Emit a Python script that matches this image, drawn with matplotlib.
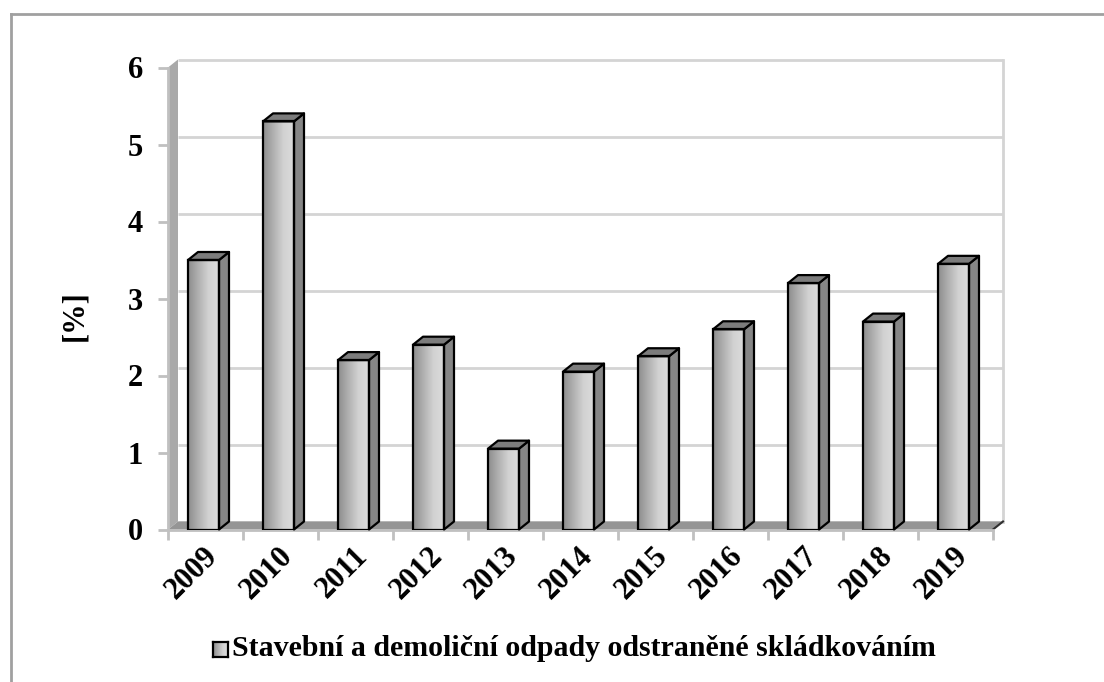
import numpy as np
import matplotlib
matplotlib.use("Agg")
import matplotlib.pyplot as plt
from matplotlib.patches import Polygon
from matplotlib.lines import Line2D
from matplotlib.colors import LinearSegmentedColormap
from matplotlib.transforms import ScaledTranslation

# --- data -------------------------------------------------------------
years = ["2009", "2010", "2011", "2012", "2013", "2014",
         "2015", "2016", "2017", "2018", "2019"]
values = [3.5, 5.3, 2.2, 2.4, 1.05, 2.05, 2.25, 2.6, 3.2, 2.7, 3.45]
y_ticks = [0, 1, 2, 3, 4, 5, 6]
series_name = "Stavební a demoliční odpady odstraněné skládkováním"
y_label = "[%]"

# --- style --------------------------------------------------------------
W, H, DPI = 1104, 682, 100
FONT = "Liberation Serif"
FS = 22
DX, DY = 10 / 75, 8 / 77          # depth offset of the pseudo-3D box (data units)
BAR_LEFT, BAR_W = -0.233, 0.413   # bar front face relative to category centre
GRID = "#d4d4d4"
AXIS = "#c0c0c0"
front_cmap = LinearSegmentedColormap.from_list(
    "front", ["#8c8c8c", "#b0b0b0", "#d2d2d2", "#dcdcdc"])
grad = np.linspace(0, 1, 256).reshape(1, -1)

fig = plt.figure(figsize=(W / DPI, H / DPI), dpi=DPI)
ax = fig.add_axes([168 / W, 1 - 529.5 / H, 825 / W, 462 / H])
ax.set_facecolor("none")
n = len(years)
x0, x1 = -0.5, n - 0.5
ytop = y_ticks[-1]

# back wall gridlines and right edge
for v in y_ticks:
    ax.plot([x0 + DX, x1 + DX], [v + DY, v + DY], color=GRID, lw=2,
            clip_on=False, zorder=1, solid_capstyle="butt")
ax.plot([x1 + DX, x1 + DX], [DY, ytop + DY], color=GRID, lw=2,
        clip_on=False, zorder=1)

# left side wall
ax.add_patch(Polygon([(x0, 0), (x0 + DX, DY), (x0 + DX, ytop + DY), (x0, ytop)],
                     closed=True, facecolor="#a9a9a9", edgecolor="none",
                     clip_on=False, zorder=1.5))
# floor
ax.add_patch(Polygon([(x0, 0), (x1, 0), (x1 + DX, DY), (x0 + DX, DY)],
                     closed=True, facecolor="#959595", edgecolor="none",
                     clip_on=False, zorder=1.5))
ax.plot([x1, x1 + DX], [0, DY], color="#303030", lw=1.5, clip_on=False, zorder=1.6)

# bars: front faces from ax.bar, side and top faces from the same values
lefts = [i + BAR_LEFT for i in range(n)]
bars = ax.bar(lefts, values, width=BAR_W, align="edge",
              facecolor="none", edgecolor="black", linewidth=1.6, zorder=4)
for rect, v in zip(bars, values):
    bx0 = rect.get_x()
    bx1 = bx0 + rect.get_width()
    im = ax.imshow(grad, cmap=front_cmap, aspect="auto",
                   extent=[bx0, bx1, 0, v], zorder=3, interpolation="bilinear")
    im.set_clip_path(rect)
    side = Polygon([(bx1, 0), (bx1 + DX, DY), (bx1 + DX, v + DY), (bx1, v)],
                   closed=True, facecolor="#868686", edgecolor="black",
                   linewidth=1.6, joinstyle="round", clip_on=False, zorder=3.5)
    top = Polygon([(bx0, v), (bx0 + DX, v + DY), (bx1 + DX, v + DY), (bx1, v)],
                  closed=True, facecolor="#7c7c7c", edgecolor="black",
                  linewidth=1.6, joinstyle="round", clip_on=False, zorder=3.5)
    ax.add_patch(side)
    ax.add_patch(top)

ax.set_xlim(x0, x1)
ax.set_ylim(0, ytop)

# axes, ticks and labels
for s in ["top", "right"]:
    ax.spines[s].set_visible(False)
for s in ["left", "bottom"]:
    ax.spines[s].set_color(AXIS)
    ax.spines[s].set_linewidth(2)
    ax.spines[s].set_zorder(2)

ax.set_yticks(y_ticks)
ax.set_yticklabels([str(t) for t in y_ticks], fontfamily=FONT,
                   fontweight="bold", fontsize=FS)
ax.tick_params(axis="y", length=7, width=2, color=AXIS, pad=11)

ax.set_xticks(np.arange(x0, x1 + 0.01, 1.0))
ax.set_xticklabels([])
ax.tick_params(axis="x", length=7, width=2, color=AXIS)
for i, lab in enumerate(years):
    off = ScaledTranslation(8 / DPI, -22 / DPI, fig.dpi_scale_trans)
    ax.text(i, 0, lab, transform=ax.transData + off, rotation=45,
            rotation_mode="anchor", ha="right", va="center",
            fontfamily=FONT, fontweight="bold", fontsize=FS)

fig.text(75 / W, 1 - 316 / H, y_label, rotation=90, ha="center", va="center",
         fontfamily=FONT, fontweight="bold", fontsize=FS)

# legend
kax = fig.add_axes([213 / W, 1 - 657 / H, 15 / W, 15 / H])
kax.imshow(grad, cmap=front_cmap, aspect="auto", interpolation="bilinear")
kax.set_xticks([])
kax.set_yticks([])
for s in kax.spines.values():
    s.set_linewidth(1.6)
    s.set_color("black")
fig.text(232 / W, 1 - 649 / H, series_name, ha="left", va="center",
         fontfamily=FONT, fontweight="bold", fontsize=21.5)

# chart area border
fig.add_artist(Line2D([10.5 / W, 1], [1 - 13.5 / H, 1 - 13.5 / H],
                      color="#a0a0a0", lw=2, transform=fig.transFigure))
fig.add_artist(Line2D([10.5 / W, 10.5 / W], [0, 1 - 13.5 / H],
                      color="#a0a0a0", lw=2, transform=fig.transFigure))

fig.savefig("out.png", dpi=DPI)
